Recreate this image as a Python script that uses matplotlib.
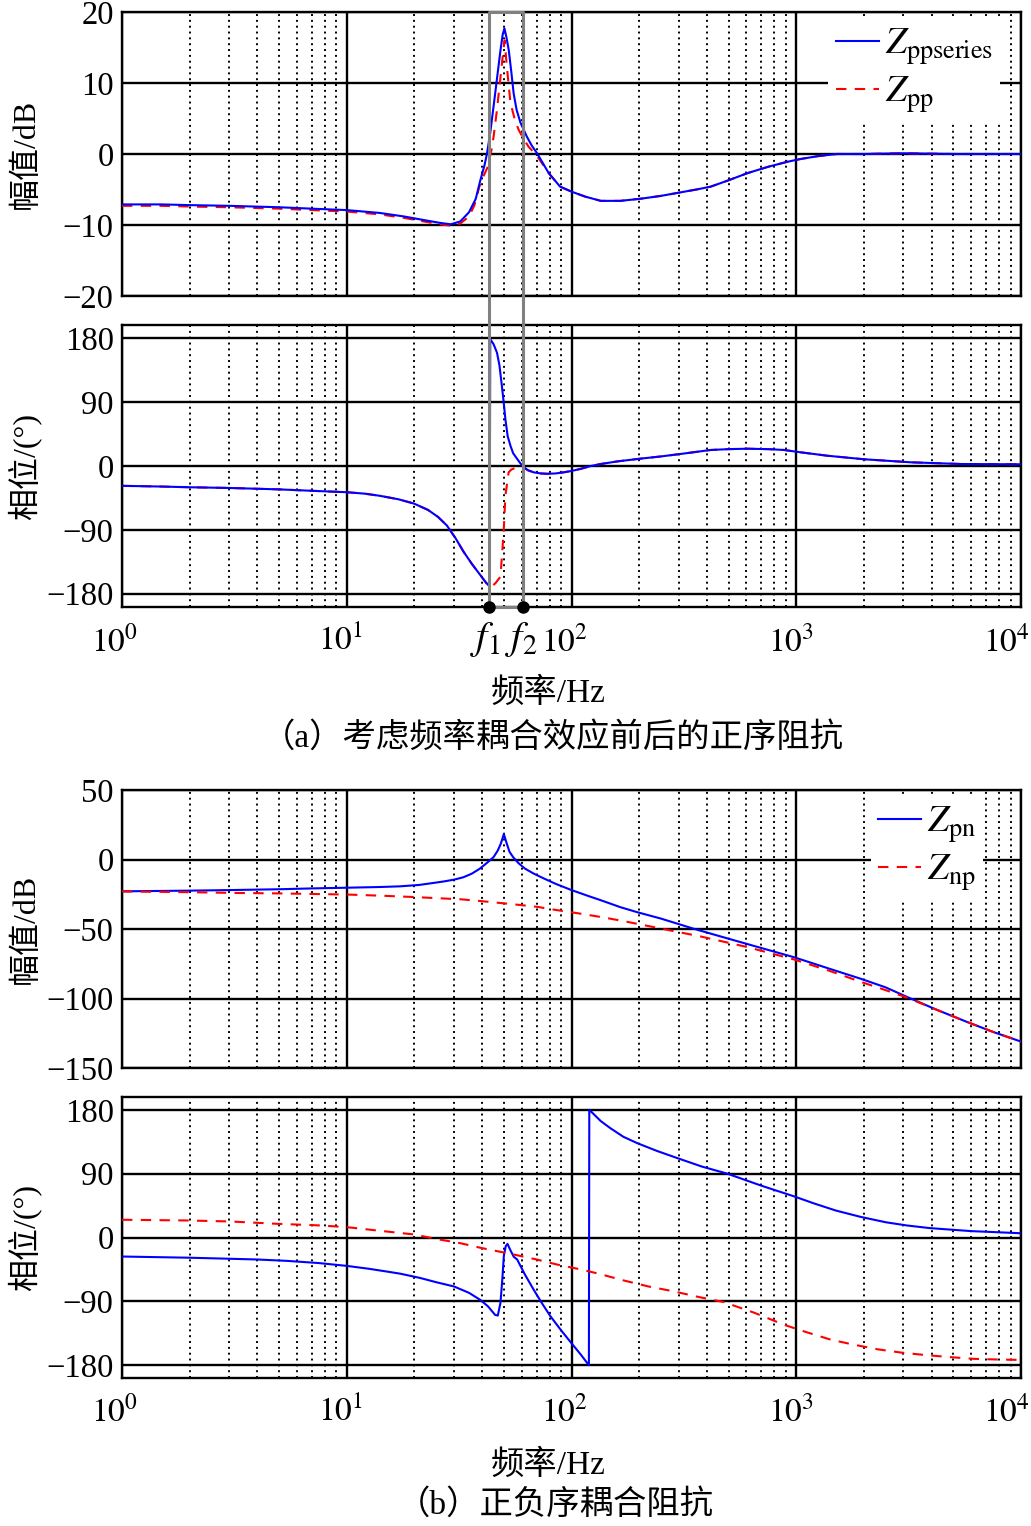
import numpy as np
import matplotlib
matplotlib.use('Agg')
import matplotlib.pyplot as plt
from matplotlib.lines import Line2D
from matplotlib.transforms import blended_transform_factory, ScaledTranslation

plt.rcParams['font.family'] = ['Liberation Serif', 'Noto Sans CJK SC']
plt.rcParams['mathtext.fontset'] = 'stix'
plt.rcParams['axes.unicode_minus'] = True

# ---- (a) positive-sequence impedance, with / without frequency coupling ----
a_mag_f_series = [1, 1.5, 2, 3, 5, 7, 10, 14, 18, 22, 26, 29, 32, 35, 37.5, 39.3, 41, 42.1,
                  43.5, 45, 46.6, 48.3, 49.4, 50.3, 51.3, 52.6, 54, 55.3, 57, 59.3, 63.4, 66.5,
                  70.3, 79.2, 89, 100, 115, 135, 165, 203, 250, 306, 360, 416, 500, 606,
                  750, 912, 1047, 1250, 1515, 2000, 3000, 5000, 7000, 10000]
a_mag_series = [-7.1, -7.1, -7.2, -7.3, -7.5, -7.7, -7.9, -8.3, -8.8, -9.3, -9.7, -9.9, -9.5,
                -8.2, -6.3, -3.7, -1.6, 0.1, 3.0, 6.7, 10.6, 14.6, 16.8, 17.7, 16.5, 14.6,
                11.5, 8.5, 6.2, 4.4, 2.4, 1.2, 0.1, -2.7, -4.6, -5.3, -6.0, -6.6,
                -6.6, -6.3, -5.9, -5.4, -5.0, -4.6, -3.7, -2.7, -1.8, -1.1, -0.7, -0.3,
                0.0, 0.0, 0.1, 0.0, 0.0, 0.0]

a_mag_f_pp = [1, 1.5, 2, 3, 5, 7, 10, 14, 18, 22, 26, 29, 32, 35, 37, 38.9, 40.5, 42.4, 44,
              45, 46.5, 48, 49.2, 50.4, 51.5, 53.5, 56, 58.2, 61, 64.5, 70, 79.2, 89, 100,
              115, 135, 165, 203, 250, 306, 360, 416, 500, 606, 750, 912, 1047, 1250, 1515,
              2000, 3000, 5000, 7000, 10000]
a_mag_pp = [-7.3, -7.3, -7.4, -7.5, -7.7, -7.9, -8.1, -8.5, -9.0, -9.5, -9.9, -10.1, -9.8,
            -8.8, -7.2, -4.6, -3.2, -1.8, 0.5, 2.4, 6.0, 10.0, 13.2, 16.0, 12.5, 7.2, 4.8,
            3.4, 2.2, 1.0, -0.2, -2.7, -4.6, -5.3, -6.0, -6.6, -6.6, -6.3, -5.9,
            -5.4, -5.0, -4.6, -3.7, -2.7, -1.8, -1.1, -0.7, -0.3, 0.0, 0.0, 0.1, 0.0, 0.0, 0.0]

a_ph_f_series = [1, 1.5, 2, 3, 5, 7, 10, 12, 14, 17, 19.9, 23, 25.5, 27.9, 30.5, 33.1, 36,
                 39.3, 41.5, 43.2, 43.5, 45, 46.6, 47.8, 49, 50, 50.8, 52, 53.5, 55, 57.3,
                 59, 61.3, 64, 68, 73, 78, 85, 92, 100, 110, 122, 135, 160, 203, 250, 306,
                 416, 500, 606, 750, 883, 1047, 1376, 2003, 3236, 5410, 10000]
a_ph_series = [-28, -29, -30, -31, -33, -35, -37, -39, -42, -47, -53, -62, -72, -84, -102,
               -121, -138, -154, -164, -170, 179, 172, 160, 142, 113, 88, 66, 42, 28.6, 18,
               10, 4.5, -1.9, -6, -9, -10.5, -11, -10.5, -9, -7, -4, 0, 2.8, 6.5, 10.4,
               13.5, 17, 22.6, 23.8, 24.4, 23.8, 22.6, 19.3, 14.5, 9.5, 5.2, 2.8, 2.4]

a_ph_f_pp = [1, 1.5, 2, 3, 5, 7, 10, 12, 14, 17, 19.9, 23, 25.5, 27.9, 30.5, 33.1, 36, 39.3,
             41.5, 42.4, 43.9, 46, 48.3, 49.9, 50.8, 52.5, 54, 57, 61.3, 64, 68, 73, 78, 85,
             92, 100, 110, 122, 135, 160, 203, 250, 306, 416, 500, 606, 750, 883, 1047,
             1376, 2003, 3236, 5410, 10000]
a_ph_pp = [-28, -29, -30, -31, -33, -35, -37, -39, -42, -47, -53, -62, -72, -84, -102, -121,
           -138, -154, -164, -168, -171, -165, -156, -93, -42, -9, -5, -2, -1.9, -6, -9,
           -10.5, -11, -10.5, -9, -7, -4, 0, 2.8, 6.5, 10.4, 13.5, 17, 22.6, 23.8, 24.4,
           23.8, 22.6, 19.3, 14.5, 9.5, 5.2, 2.8, 2.4]

f1, f2 = 43.0, 61.0

# ---- (b) coupling impedances Zpn / Znp ----
b_mag_f_pn = [1, 2, 3, 5, 7, 10, 14, 17.3, 21, 24, 27, 30, 33, 36, 39, 42, 45, 47, 48.5, 50,
              51.5, 53, 55, 58, 62, 68, 75, 85, 100, 120, 135, 165, 196, 250, 351, 500, 700,
              977, 1400, 1937, 2500, 3126, 4200, 5780, 7500, 10000]
b_mag_pn = [-22.9, -22.4, -22.0, -21.4, -20.8, -20.3, -19.8, -19.3, -18.3, -17.0, -15.8,
            -14.5, -12.8, -10.2, -6.7, -2.5, 1.7, 6.5, 11.5, 18.3, 11.5, 5.5, 1.7, -2.5,
            -6.5, -10.2, -13.5, -17.5, -22.0, -26.5, -29.3, -34.3, -37.9, -42.5, -49.9,
            -57, -63.7, -70.3, -78.5, -85.8, -92, -99, -108, -117, -124, -131]

b_mag_f_np = [1, 2, 3, 5, 7, 10, 14, 19.9, 25, 32, 40, 53.5, 70, 86, 110, 139, 174, 233, 376,
              606, 977, 1400, 1937, 2500, 3126, 4200, 5780, 7500, 10000]
b_mag_np = [-23, -23.5, -24, -24.4, -24.8, -25.2, -26, -27, -27.8, -28.6, -30, -32, -34,
            -36.4, -39, -41.7, -44.6, -48.7, -55.4, -63, -71.9, -80, -88, -94, -99.5,
            -108, -117, -124, -131]

b_ph_f_pn = [1, 2, 2.73, 4, 5.4, 7.5, 10, 12.5, 15.1, 17.3, 21.2, 25, 30, 35, 39.3, 42.5,
             45.7, 47, 48.3, 49.2, 50, 51, 51.9, 53.5, 55.3, 57.3, 62, 68, 74, 80.6, 90, 100,
             110, 119.5, 120, 135, 149, 170, 196, 240, 295, 380, 493, 700, 977, 1200, 1500,
             1937, 2500, 3100, 3908, 6000, 10000]
b_ph_pn = [-26.8, -28.5, -29.6, -31, -32.9, -36, -40, -44, -48, -51, -57, -63, -69, -78, -88,
           -97, -109, -110, -92, -60, -26, -12, -9, -18, -27, -31, -52, -74, -93, -111, -131,
           -149, -165, -180, 180, 164, 154, 142, 133, 122, 112, 100, 90, 73, 58, 48, 38,
           29, 21.5, 17, 13.3, 9, 6]

b_ph_f_np = [1, 1.94, 3.03, 4.9, 7.6, 10, 14, 19.9, 25, 32, 40, 53.5, 70, 86, 110, 132, 171,
             220, 286, 370, 476, 650, 883, 1100, 1425, 1800, 2296, 2900, 3707, 4800, 6170,
             8000, 10000]
b_ph_np = [25, 24, 22.6, 19.3, 17, 14.6, 9.5, 4.3, -2, -8, -15, -23, -31, -38, -45, -51,
           -60.6, -69, -76, -84, -91, -106, -123, -133, -144, -151, -157.5, -162, -165.5,
           -168.5, -171, -172, -172.5]

decades = [0, 1, 2, 3, 4]
decade_shift_px = [-7, -6, -7, -5, -15]

BLUE = '#0000ff'
RED = '#ff0000'
W, H = 1031, 1526


def px_axes(fig, left, right, top, bottom):
    return fig.add_axes([left / W, 1 - bottom / H, (right - left) / W, (bottom - top) / H])


def style(ax, ylim, yticks, xlabels=True):
    ax.set_xscale('log')
    ax.set_xlim(1, 1e4)
    ax.set_ylim(*ylim)
    ax.set_yticks(yticks)
    ax.set_xticks([10.0 ** k for k in decades])
    ax.set_xticklabels([])
    ax.grid(which='major', axis='both', color='k', lw=1.7, ls='-')
    ax.grid(which='minor', axis='x', color='k', lw=1.4, ls=(0, (1, 2)))
    ax.tick_params(which='both', direction='in', top=True, right=True, labelsize=23.5,
                   length=0, pad=6)
    for s in ax.spines.values():
        s.set_linewidth(1.7)
    ax.set_axisbelow(True)
    if xlabels:
        trx = blended_transform_factory(ax.transData, ax.transAxes)
        for k, dx in zip(decades, decade_shift_px):
            off = ScaledTranslation(dx / 100, 0, ax.figure.dpi_scale_trans)
            ax.text(10.0 ** k, -0.065, r'$10^{%d}$' % k, transform=trx + off,
                    ha='center', va='top', fontsize=24)


def add_legend(ax, labels, anchor):
    handles = [Line2D([], [], color=BLUE, lw=1.5), Line2D([], [], color=RED, lw=1.5, ls=dash)]
    ax.legend(handles, labels, loc='upper right', bbox_to_anchor=anchor, fontsize=27,
              frameon=True, fancybox=False, framealpha=1, edgecolor='none',
              handlelength=1.15, handletextpad=0.15, labelspacing=0.2, borderpad=0.2,
              borderaxespad=0)


fig = plt.figure(figsize=(W / 100, H / 100), dpi=100)

ax1 = px_axes(fig, 122, 1021, 12, 296)
ax2 = px_axes(fig, 122, 1021, 325, 607)
ax3 = px_axes(fig, 122, 1021, 790, 1068)
ax4 = px_axes(fig, 122, 1021, 1097, 1378)

dash = (0, (5, 4))
ylab_x = -0.09

# (a) magnitude
ax1.plot(a_mag_f_pp, a_mag_pp, color=RED, lw=1.5, ls=dash, zorder=3)
ax1.plot(a_mag_f_series, a_mag_series, color=BLUE, lw=1.5, zorder=4)
style(ax1, (-20, 20), [-20, -10, 0, 10, 20], xlabels=False)
ax1.set_ylabel('幅值/dB', fontsize=23)
ax1.yaxis.set_label_coords(ylab_x, 0.5)
add_legend(ax1, [r'$Z_{\rm ppseries}$', r'$Z_{\rm pp}$'], (0.977, 0.975))

# (a) phase
ax2.plot(a_ph_f_pp, a_ph_pp, color=RED, lw=1.5, ls=dash, zorder=3)
ax2.plot(a_ph_f_series, a_ph_series, color=BLUE, lw=1.5, zorder=4)
style(ax2, (-199, 199), [-180, -90, 0, 90, 180])
ax2.set_ylabel('相位/(°)', fontsize=23)
ax2.yaxis.set_label_coords(ylab_x, 0.5)

# gray frequency band f1..f2 spanning both panels of (a)
tr = blended_transform_factory(ax2.transData, fig.transFigure)
y_bot = 1 - 607 / H
y_top = 1 - 12 / H
fig.add_artist(Line2D([f1, f1, f2, f2, f1], [y_bot, y_top, y_top, y_bot, y_bot],
                      transform=tr, color='#808080', lw=2.2, zorder=5))
fig.add_artist(Line2D([f1, f2], [y_bot, y_bot], transform=tr, ls='none', marker='o',
                      ms=8, color='k', zorder=6))
trx2 = blended_transform_factory(ax2.transData, ax2.transAxes)
ax2.text(f1 * 0.96, -0.045, r'$f_1$', transform=trx2, ha='center', va='top', fontsize=29)
ax2.text(f2 * 0.98, -0.045, r'$f_2$', transform=trx2, ha='center', va='top', fontsize=29)

fig.text(548 / W, 1 - 693 / H, '频率/Hz', ha='center', va='center', fontsize=24)
fig.text(553 / W, 1 - 738 / H, '（a）考虑频率耦合效应前后的正序阻抗', ha='center',
         va='center', fontsize=24)

# (b) magnitude
ax3.plot(b_mag_f_pn, b_mag_pn, color=BLUE, lw=1.5, zorder=3)
ax3.plot(b_mag_f_np, b_mag_np, color=RED, lw=1.5, ls=dash, zorder=4)
style(ax3, (-150, 50), [-150, -100, -50, 0, 50], xlabels=False)
ax3.set_ylabel('幅值/dB', fontsize=23)
ax3.yaxis.set_label_coords(ylab_x, 0.5)
add_legend(ax3, [r'$Z_{\rm pn}$', r'$Z_{\rm np}$'], (0.958, 0.975))

# (b) phase
ax4.plot(b_ph_f_pn, b_ph_pn, color=BLUE, lw=1.5, zorder=3)
ax4.plot(b_ph_f_np, b_ph_np, color=RED, lw=1.5, ls=dash, zorder=4)
style(ax4, (-198, 198), [-180, -90, 0, 90, 180])
ax4.set_ylabel('相位/(°)', fontsize=23)
ax4.yaxis.set_label_coords(ylab_x, 0.5)

fig.text(548 / W, 1 - 1465 / H, '频率/Hz', ha='center', va='center', fontsize=24)
fig.text(555 / W, 1 - 1505 / H, '（b）正负序耦合阻抗', ha='center', va='center', fontsize=24)

fig.savefig('out.png', dpi=100)
